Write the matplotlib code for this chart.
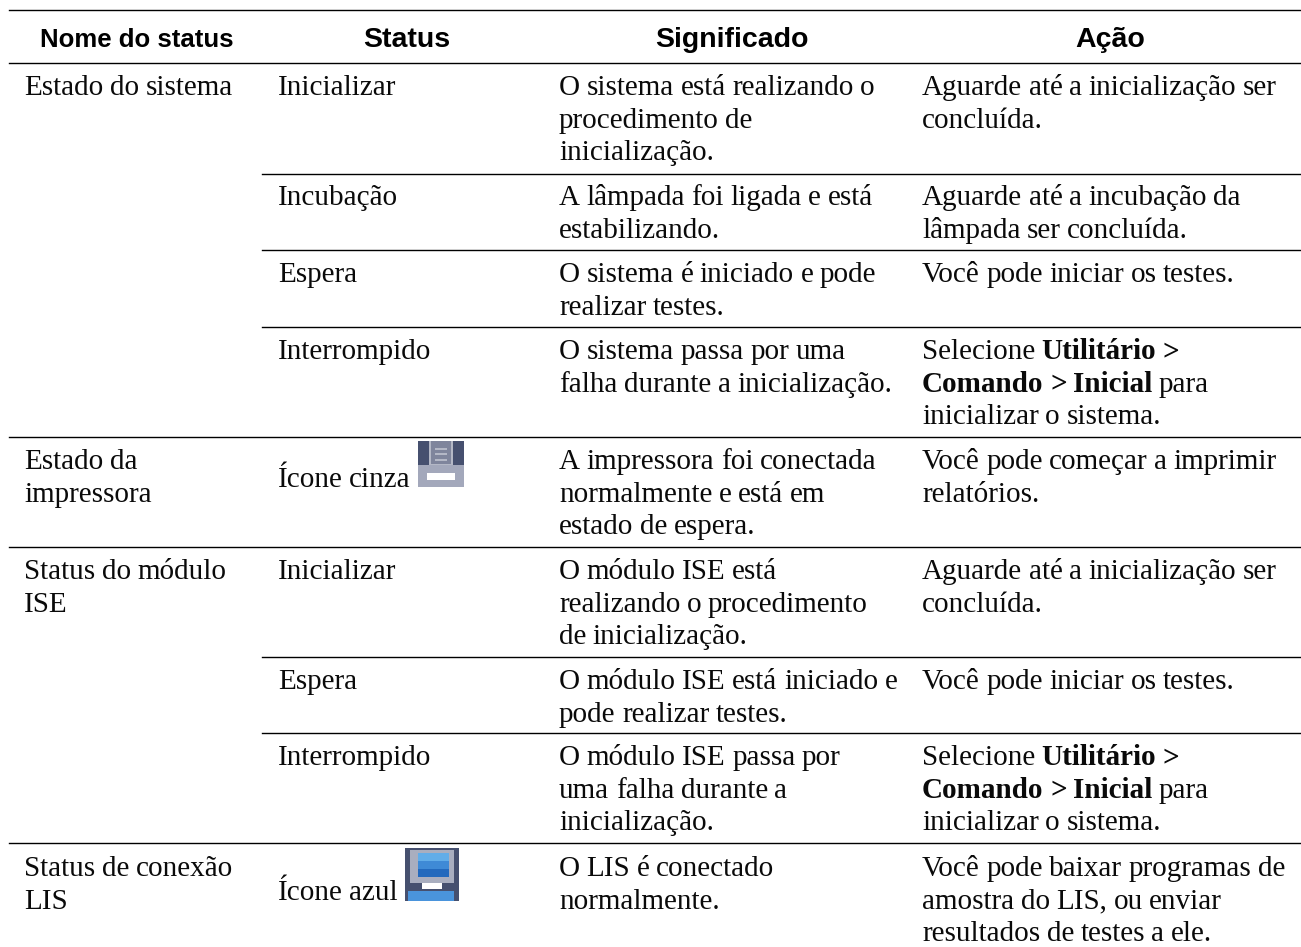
import matplotlib
matplotlib.use("Agg")
import matplotlib.pyplot as plt
from matplotlib.patches import Rectangle

BODY = "Liberation Serif"
HEAD = "Liberation Sans"
SIZE = 21

headers = ["Nome do status", "Status", "Significado", "Ação"]
header_x = [136.5, 406.5, 731.5, 1110.5]
header_size = [18.5, 20.5, 20.5, 20.5]

groups = ["Estado do sistema", "Estado da\nimpressora", "Status do módulo\nISE", "Status de conexão\nLIS"]
group_y = [95, 469, 579, 876]

status = ["Inicializar", "Incubação", "Espera", "Interrompido", "Ícone cinza", "Inicializar",
          "Espera", "Interrompido", "Ícone azul"]
status_y = [95, 205, 282, 359, 487, 579, 689, 765, 900]
meaning = [
    "O sistema está realizando o\nprocedimento de\ninicialização.",
    "A lâmpada foi ligada e está\nestabilizando.",
    "O sistema é iniciado e pode\nrealizar testes.",
    "O sistema passa por uma\nfalha durante a inicialização.",
    "A impressora foi conectada\nnormalmente e está em\nestado de espera.",
    "O módulo ISE está\nrealizando o procedimento\nde inicialização.",
    "O módulo ISE está iniciado e\npode realizar testes.",
    "O módulo ISE passa por\numa falha durante a\ninicialização.",
    "O LIS é conectado\nnormalmente.",
]
action = [
    "Aguarde até a inicialização ser\nconcluída.",
    "Aguarde até a incubação da\nlâmpada ser concluída.",
    "Você pode iniciar os testes.",
    "Selecione *Utilitário >*\n*Comando > Inicial* para\ninicializar o sistema.",
    "Você pode começar a imprimir\nrelatórios.",
    "Aguarde até a inicialização ser\nconcluída.",
    "Você pode iniciar os testes.",
    "Selecione *Utilitário >*\n*Comando > Inicial* para\ninicializar o sistema.",
    "Você pode baixar programas de\namostra do LIS, ou enviar\nresultados de testes a ele.",
]
row_y = [95, 205, 282, 359, 469, 579, 689, 765, 876]
full_lines = [9.5, 63, 437, 546.5, 843]
short_lines = [173.5, 250, 327, 656.5, 733]
LINE_H = 32.5

fig = plt.figure(figsize=(13.01, 9.47), dpi=100)
ax = fig.add_axes([0, 0, 1, 1])
ax.set_xlim(0, 1301)
ax.set_ylim(947, 0)
ax.axis("off")
renderer = fig.canvas.get_renderer()


def write(x, y, s):
    # une ligne par texte, les parties entre * sont en gras
    for i, line in enumerate(s.split("\n")):
        cur = x
        for j, part in enumerate(line.split("*")):
            if not part:
                continue
            weight = "bold" if j % 2 else "normal"
            for word in part.split():
                t = ax.text(cur, y + i * LINE_H, word, family=BODY, fontsize=SIZE,
                            fontweight=weight, va="baseline", color="#0a0a0a")
                cur += t.get_window_extent(renderer).width + 6.5


for y in full_lines:
    ax.plot([9, 1301], [y, y], color="black", lw=1.0)
for y in short_lines:
    ax.plot([262, 1301], [y, y], color="black", lw=1.0)

for x, h, fs in zip(header_x, headers, header_size):
    ax.text(x, 46.5, h, family=HEAD, fontweight="bold", fontsize=fs, ha="center", va="baseline")

for y, g in zip(group_y, groups):
    write(24, y, g)
for y, s in zip(status_y, status):
    write(278, y, s)
for y, m, a in zip(row_y, meaning, action):
    write(559, y, m)
    write(922, y, a)

# icone cinza
ax.add_patch(Rectangle((418, 441), 46, 46, color="#46506f", lw=0))
ax.add_patch(Rectangle((429, 441), 24, 24, color="#b4b8c6", lw=0))
ax.add_patch(Rectangle((431, 441), 20, 23, color="#7f859c", lw=0))
for y in [448, 453, 459]:
    ax.add_patch(Rectangle((435, y), 12, 2, color="#b4b8c6", lw=0))
ax.add_patch(Rectangle((418, 465), 46, 22, color="#a3a8bb", lw=0))
ax.add_patch(Rectangle((427, 473), 28, 7, color="white", lw=0))

# icone azul
ax.add_patch(Rectangle((405, 848), 54, 53, color="#46506f", lw=0))
ax.add_patch(Rectangle((410, 850), 44, 33, color="#a9aebf", lw=0))
ax.add_patch(Rectangle((418, 853), 31, 8, color="#62ade8", lw=0))
ax.add_patch(Rectangle((418, 861), 31, 8, color="#3f8ad6", lw=0))
ax.add_patch(Rectangle((418, 869), 31, 8, color="#2369bd", lw=0))
ax.add_patch(Rectangle((422, 883), 20, 6, color="white", lw=0))
ax.add_patch(Rectangle((408, 891), 46, 10, color="#4a94dc", lw=0))

fig.savefig("out.png", dpi=100)
